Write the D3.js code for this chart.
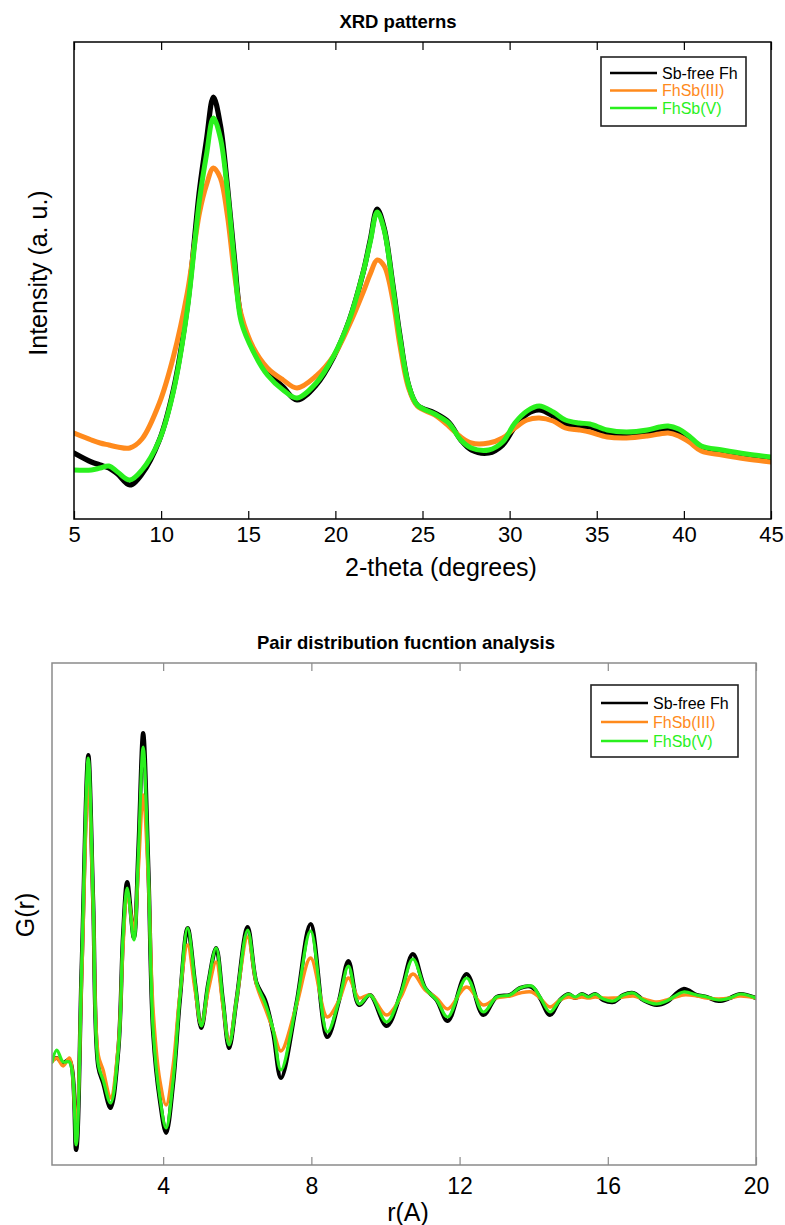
<!DOCTYPE html>
<html><head><meta charset="utf-8">
<script src="https://cdn.jsdelivr.net/npm/d3@7"></script>
<style>
body{margin:0;background:#fff}
text{font-family:"Liberation Sans",Arial,Helvetica,sans-serif}
</style></head>
<body><svg id="c" width="785" height="1225"></svg>
<script>
// ---------- DATA ----------
const seriesNames = ["Sb-free Fh", "FhSb(III)", "FhSb(V)"];
const seriesColors = ["#000000", "#ff8a1c", "#2af01e"];

const twoTheta = [5,6,6.5,7,7.5,8.2,8.9,9.9,10.7,11.5,12.2,12.6,13.0,13.4,13.8,14.2,14.6,15.3,16.1,17.0,17.8,18.9,19.9,20.8,21.6,22.0,22.4,22.8,23.3,23.7,24.2,24.7,25.7,26.5,27.2,27.8,28.8,29.6,30.3,31.0,31.7,32.5,33.2,34.0,34.6,35.6,36.7,37.9,38.6,39.1,39.7,40.3,41.0,42.2,43.6,45];
const xrdSbFree = [66,57,54,51,45,34,45,79,129,212,329,379,422,394,334,262,201,169,147,132,119,134,162,199,247,279,310,291,234,184,134,114,106,97,79,69,66,74,92,105,109,103,95,92,92,86,84,86,89,90,87,80,71,67,63,60];
const xrdSb3 = [86,79,76,74,72,71,80,116,162,226,306,334,351,341,304,246,204,171,151,139,131,143,163,194,227,245,259,253,219,174,131,113,104,93,82,76,76,81,91,99,101,98,91,89,87,82,81,83,85,86,83,77,68,64,60,57];
const xrdSb5 = [49,49,51,53,47,39,49,79,127,209,319,364,401,381,329,257,197,167,144,129,121,136,163,199,247,277,307,289,232,182,134,114,105,96,79,71,69,77,96,108,113,107,99,96,95,89,87,89,92,93,90,83,73,69,65,62];
const xrdTicks = [5,10,15,20,25,30,35,40,45];

const rValues = [1.0,1.13,1.3,1.47,1.65,1.8,1.98,2.11,2.25,2.38,2.58,2.79,2.92,3.03,3.21,3.33,3.46,3.6,3.73,3.91,4.08,4.27,4.45,4.66,4.86,5.03,5.22,5.43,5.61,5.78,5.98,6.28,6.52,6.75,6.97,7.18,7.6,7.98,8.43,8.75,9.0,9.29,9.58,10.03,10.4,10.74,11.07,11.38,11.68,12.19,12.64,13.0,13.36,13.63,13.95,14.17,14.44,14.71,14.94,15.12,15.3,15.48,15.66,15.88,16.15,16.42,16.69,16.96,17.32,17.59,18.04,18.4,18.67,18.99,19.3,19.57,20.0];
const gSbFree = [-61,-59,-64,-61,-151,32,244,99,-68,-84,-109,-51,66,117,61,149,266,132,-34,-101,-134,-84,-1,71,16,-29,16,51,-1,-49,-1,72,16,-1,-34,-79,-4,75,-38,-1,38,-6,4,-27,4,45,11,-1,-22,25,-16,2,4,11,12,1,-16,-1,5,1,5,2,5,-1,-3,4,6,-1,-6,-3,10,4,2,-2,1,5,1];
const gSb3 = [-63,-59,-67,-59,-123,19,222,94,-56,-71,-99,-46,54,106,69,129,204,119,-11,-81,-106,-66,4,54,9,-26,9,37,-6,-44,-1,62,14,-9,-31,-52,-6,41,-18,-1,21,1,4,-16,1,25,9,1,-10,12,-6,1,3,6,7,1,-8,-1,2,1,2,1,2,1,1,2,3,0,-3,-1,4,3,1,0,1,3,1];
const gSb5 = [-63,-51,-63,-63,-146,32,241,99,-66,-81,-104,-51,64,111,59,144,252,129,-31,-98,-129,-81,1,71,16,-27,16,51,-1,-46,-1,69,16,-4,-31,-71,-4,68,-33,-1,33,-5,4,-23,4,40,11,-1,-18,21,-13,2,4,11,13,2,-13,-1,5,2,5,2,5,0,-2,4,6,-1,-5,-2,7,4,2,-1,1,5,1];
const pdfTicks = [4,8,12,16,20];

// ---------- DRAW ----------
const svg = d3.select("#c");
const FONT = '"Liberation Sans",Arial,Helvetica,sans-serif';

function panel(opts){
  const {x, y, xs, ys, series, widths, ticks, frameColor, tickFs, tickBase, title, titleX, titleY,
         xlabel, xlabelX, xlabelY, ylabel, ylabelX, ylabelY, legend, clipId} = opts;
  const [x0,x1] = x.range(); const [y0,y1] = y.range(); // y0 bottom, y1 top
  const g = svg.append("g");
  g.append("clipPath").attr("id", clipId).append("rect")
    .attr("x", x0).attr("y", y1).attr("width", x1-x0).attr("height", y0-y1);

  const line = d3.line().x((d,i)=>x(xs[i])).y(d=>y(d)).curve(d3.curveCatmullRom.alpha(0.5));
  const lg = g.append("g").attr("clip-path", `url(#${clipId})`);
  series.forEach((s,k)=>{
    lg.append("path").attr("d", line(s)).attr("fill","none")
      .attr("stroke", seriesColors[k]).attr("stroke-width", widths[k])
      .attr("stroke-linejoin","round").attr("stroke-linecap","round");
  });

  // bottom axis (inward ticks)
  const ab = g.append("g").attr("transform", `translate(0,${y0})`)
    .call(d3.axisBottom(x).tickValues(ticks).tickSizeInner(-8).tickSizeOuter(0).tickPadding(0));
  ab.select(".domain").remove();
  ab.selectAll(".tick line").attr("stroke", frameColor).attr("stroke-width", 1.2);
  ab.selectAll(".tick text").attr("font-size", tickFs).attr("font-family", FONT)
    .attr("fill","#000").attr("dy", null).attr("y", tickBase);
  // top axis (ticks only)
  const at = g.append("g").attr("transform", `translate(0,${y1})`)
    .call(d3.axisTop(x).tickValues(ticks).tickSizeInner(-8).tickSizeOuter(0).tickFormat(""));
  at.select(".domain").remove();
  at.selectAll(".tick line").attr("stroke", frameColor).attr("stroke-width", 1.2);

  // frame
  g.append("rect").attr("x", x0).attr("y", y1).attr("width", x1-x0).attr("height", y0-y1)
    .attr("fill","none").attr("stroke", frameColor).attr("stroke-width", 1.5);

  // texts
  g.append("text").attr("x", titleX).attr("y", titleY).attr("text-anchor","middle")
    .attr("font-size", 18.5).attr("font-weight","bold").text(title);
  g.append("text").attr("x", xlabelX).attr("y", xlabelY).attr("text-anchor","middle")
    .attr("font-size", 25).text(xlabel);
  g.append("text").attr("transform", `translate(${ylabelX},${ylabelY}) rotate(-90)`)
    .attr("text-anchor","middle").attr("font-size", 25).text(ylabel);

  // legend
  const L = legend;
  g.append("rect").attr("x", L.x).attr("y", L.y).attr("width", L.w).attr("height", L.h)
    .attr("fill","#fff").attr("stroke","#222").attr("stroke-width", 1.6);
  seriesNames.forEach((n,k)=>{
    const cy = L.y0 + k*L.dy;
    g.append("line").attr("x1", L.lx0).attr("x2", L.lx1).attr("y1", cy).attr("y2", cy)
      .attr("stroke", seriesColors[k]).attr("stroke-width", 2.6);
    g.append("text").attr("x", L.tx).attr("y", cy + 5.8).attr("font-size", 16)
      .attr("fill", seriesColors[k]).text(n);
  });
}

panel({
  x: d3.scaleLinear([5,45],[74,771]),
  y: d3.scaleLinear([0,477],[519,42]),
  xs: twoTheta, series: [xrdSbFree, xrdSb3, xrdSb5], widths: [5.2,5,5],
  ticks: xrdTicks, frameColor: "#000", tickFs: 22, tickBase: 23,
  title: "XRD patterns", titleX: 398, titleY: 28,
  xlabel: "2-theta (degrees)", xlabelX: 441, xlabelY: 576,
  ylabel: "Intensity (a. u.)", ylabelX: 47, ylabelY: 273,
  legend: {x:601, y:57, w:145, h:69, y0:73, dy:17.5, lx0:610, lx1:657, tx:662},
  clipId: "clipA"
});

panel({
  x: d3.scaleLinear([1,20],[52,756]),
  y: d3.scaleLinear([-166,336],[1165,663]),
  xs: rValues, series: [gSbFree, gSb3, gSb5], widths: [4.2,3.4,3.2],
  ticks: pdfTicks, frameColor: "#8a8a8a", tickFs: 23, tickBase: 29,
  title: "Pair distribution fucntion analysis", titleX: 406, titleY: 649,
  xlabel: "r(A)", xlabelX: 408, xlabelY: 1221,
  ylabel: "G(r)", ylabelX: 34, ylabelY: 915,
  legend: {x:591, y:685, w:147, h:72, y0:703, dy:19, lx0:601, lx1:648, tx:653},
  clipId: "clipB"
});
</script></body></html>
